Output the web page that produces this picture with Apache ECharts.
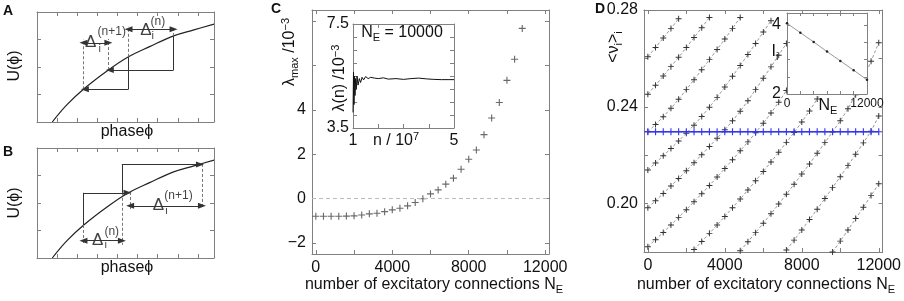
<!DOCTYPE html>
<html>
<head>
<meta charset="utf-8">
<script src="https://cdn.jsdelivr.net/npm/echarts@6/dist/echarts.min.js"></script>
<style>
html,body{margin:0;padding:0;background:#ffffff;}
#chart{width:904px;height:301px;}
</style>
</head>
<body>
<div id="chart"></div>
<script>
// ================= DATA =================
// Panels A/B: schematic curve U(phi) (arbitrary units)
const phiCurve = [0.76, 1.48, 2.31, 3.55, 4.55, 5.6, 6.79, 7.8, 8.8];
const uCurve   = [0.0, 0.62, 1.19, 1.89, 2.37, 2.74, 3.13, 3.35, 3.56];

const stepsA  = [[[6.79,3.13],[6.79,1.89]], [[4.55,2.37],[4.55,1.19]]];
const arrowsA = [[[6.79,1.89],[3.62,1.89]], [[4.55,1.19],[2.38,1.19]]];
const dashesA = [[[6.79,3.13],[6.79,3.47]], [[4.55,2.37],[4.55,3.47]], [[3.55,1.89],[3.55,3.02]], [[2.31,1.19],[2.31,3.02]]];
const spansA  = [[[4.55,3.37],[6.79,3.37]], [[2.31,2.88],[3.55,2.88]]];
const deltaAtA = [[5.41,3.32],[2.67,2.88]];
const deltaSupA = ['(n)','(n+1)'];

const stepsB  = [[[2.31,1.2],[2.31,2.37]], [[4.22,2.37],[4.22,3.4]]];
const arrowsB = [[[2.31,2.37],[4.5,2.37]], [[4.22,3.4],[8.1,3.4]]];
const dashesB = [[[2.31,1.2],[2.31,0.48]], [[4.22,2.37],[4.22,0.48]], [[4.63,2.4],[4.63,1.78]], [[8.2,3.42],[8.2,1.78]]];
const spansB  = [[[2.31,0.63],[4.22,0.63]], [[4.63,1.9],[8.2,1.9]]];
const deltaAtB = [[3.02,0.64],[6.04,1.90]];
const deltaSupB = ['(n)','(n+1)'];

// Panel C: largest Lyapunov exponent vs N_E
const nE_C = [0,400,800,1200,1600,2000,2400,2800,3200,3600,4000,4400,4800,5200,5600,6000,6400,6800,7200,7600,8000,8400,8800,9200,9600,10000,10400,10800];
const lamMax = [-0.80,-0.80,-0.80,-0.80,-0.79,-0.78,-0.74,-0.69,-0.66,-0.59,-0.51,-0.44,-0.33,-0.18,-0.01,0.21,0.39,0.65,0.92,1.32,1.77,2.19,2.88,3.63,4.33,5.33,6.28,7.67];

// Panel C inset: lambda(n) convergence for N_E = 10000
const nInset = [1.00,1.02,1.04,1.06,1.08,1.10,1.13,1.16,1.20,1.25,1.30,1.36,1.42,1.50,1.60,1.70,1.85,2.00,2.20,2.40,2.70,3.00,3.30,3.60,3.90,4.20,4.50,4.80,5.00];
const lamN   = [4.10,5.65,4.40,5.50,4.75,5.40,5.00,5.50,5.15,5.40,5.25,5.45,5.35,5.48,5.40,5.45,5.42,5.40,5.43,5.38,5.40,5.37,5.40,5.42,5.39,5.37,5.36,5.36,5.36];

// Panel D: individual rates <nu_i> vs N_E
const nE_D = [0,400,800,1200,1600,2000,2400,2800,3200,3600,4000,4400,4800,5200,5600,6000,6400,6800,7200,7600,8000,8400,8800,9200,9600,10000,10400,10800,11200,11600,12000];
const rate1  = [0.2607,0.2645,0.2684,0.2724,0.2764];
const rate2  = [0.2452,0.2489,0.2527,0.2566,0.2605,0.2645,0.2686,0.2727,0.2769];
const rate3  = [0.2297,0.2327,0.2359,0.2394,0.2431,0.2471,0.2512,0.2553,0.2595,0.2637,0.2680,0.2724,0.2769];
const rate4  = [0.2139,0.2168,0.2198,0.2228,0.2259,0.2291,0.2324,0.2360,0.2398,0.2439,0.2482,0.2526,0.2571,0.2616,0.2662,0.2709,0.2756];
const rate5  = [0.1983,0.2012,0.2042,0.2073,0.2104,0.2136,0.2169,0.2202,0.2236,0.2270,0.2305,0.2342,0.2382,0.2425,0.2471,0.2518,0.2565,0.2613,0.2662];
const rate6  = [0.1822,0.1851,0.1881,0.1912,0.1943,0.1975,0.2008,0.2041,0.2075,0.2110,0.2145,0.2181,0.2218,0.2255,0.2293,0.2332,0.2374,0.2419,0.2467];
const rate7  = [0.1810,0.1843,0.1877,0.1912,0.1947,0.1983,0.2019,0.2056,0.2094,0.2133,0.2172,0.2212,0.2253,0.2294,0.2337,0.2383,0.2432,0.2484];
const rate8  = [0.1805,0.1842,0.1880,0.1919,0.1958,0.1998,0.2039,0.2080,0.2122,0.2164,0.2208,0.2252,0.2296,0.2342,0.2392,0.2450,0.2515,0.2588,0.2665];
const rate9  = [0.1808,0.1849,0.1891,0.1934,0.1977,0.2021,0.2066,0.2111,0.2157,0.2204,0.2251,0.2299,0.2362];
const rate10 = [0.1800,0.1845,0.1891,0.1938,0.1985,0.2033,0.2082];
const rateStartIdx = [0,0,0,0,0,0,6,12,18,24]; // index into nE_D where each branch starts
const rateMean = [0.2297,0.2297,0.2297,0.2297,0.2297,0.2297,0.2297,0.2297,0.2297,0.2297,0.2297,0.2297,0.2297,0.2297,0.2297,0.2297,0.2297,0.2297,0.2297,0.2297,0.2297,0.2297,0.2297,0.2297,0.2297,0.2297,0.2297,0.2297,0.2297,0.2297,0.2297];

// Panel D inset: I_i vs N_E
const nE_Din = [0,2000,4000,6000,8000,10000,12000];
const iCur   = [4.05,3.78,3.51,3.23,2.96,2.69,2.41];

// ================= STYLE / LAYOUT =================
const FONT = '"Liberation Sans", Arial, Helvetica, sans-serif';
const AX = '#808080';
const INK = '#111111';
const PLUS = 'path://M0,4.2H10V5.8H0Z M4.2,0H5.8V10H4.2Z';

const grids = [
  {left:37,  top:12,  width:177, height:110},                     // A
  {left:37,  top:148, width:177, height:110},                     // B
  {left:312, top:10,  width:237, height:244},                     // C
  {left:353, top:24,  width:101, height:104, z:5},                // C inset
  {left:644, top:10,  width:243, height:242},                     // D
  {left:787, top:13,  width:80,  height:81,  z:5}                 // D inset
].map(g => Object.assign({containLabel:false, show: g.z===5, backgroundColor:'#ffffff', borderWidth:0}, g));

const minusFmt = v => (v < 0 ? '\u2212' + Math.abs(v) : String(v));
const fmtCX = v => (v >= 0 && v % 4000 === 0) ? String(v) : '';
const fmtCY = v => ([-2,0,2,4].indexOf(v) >= 0) ? minusFmt(v) : '';
const fmtDY = v => { const k = Math.round(v*100); return (k % 4 === 0 && k >= 20) ? v.toFixed(2) : ''; };
const fmtCinX = v => (v === 1 || v === 5) ? String(v) : '';
const fmtCinY = v => (Math.abs(v-3.5)<1e-9 || Math.abs(v-7.5)<1e-9) ? v.toFixed(1) : '';
const fmtDinX = v => (v === 0 || v === 12000) ? String(v) : '';
const fmtDinY = v => (Math.abs(v-2)<1e-9 || Math.abs(v-4)<1e-9) ? String(Math.round(v)) : '';

const axisCfg = [
  {x:{min:0,max:8.8,interval:1}, y:{min:0,max:4,interval:1}},
  {x:{min:0,max:8.8,interval:1}, y:{min:0,max:4,interval:1}},
  {x:{min:-200,max:12200,minInterval:2000,maxInterval:2000,splitNumber:6,fmt:fmtCX},
   y:{min:-2.5,max:8.5,minInterval:2,maxInterval:2,splitNumber:5,fmt:fmtCY}},
  {x:{min:1,max:5,interval:1,fmt:fmtCinX,margin:5,z:6},
   y:{min:3.5,max:7.5,interval:0.5,fmt:fmtCinY,margin:4,z:6}},
  {x:{min:-200,max:12200,minInterval:2000,maxInterval:2000,splitNumber:6,fmt:fmtCX},
   y:{min:0.18,max:0.28,interval:0.02,fmt:fmtDY}},
  {x:{min:0,max:12000,interval:2000,fmt:fmtDinX,fs:12,margin:4,z:6,tick:3},
   y:{min:2,max:4.35,interval:0.5,fmt:fmtDinY,margin:6,z:6,tick:3}}
];

function mkAxis(gi, o, pos, withLabel) {
  const a = {
    gridIndex: gi, type: 'value', position: pos, min: o.min, max: o.max,
    z: o.z || 0,
    axisLine: {show: true, onZero: false, lineStyle: {color: AX, width: 1}},
    axisTick: {show: true, inside: true, length: o.tick || 4, lineStyle: {color: AX, width: 1}},
    axisLabel: {show: !!(withLabel && o.fmt), formatter: o.fmt, color: INK, fontSize: o.fs || 16,
                fontFamily: FONT, margin: o.margin || 6, showMinLabel: true, showMaxLabel: true},
    splitLine: {show: false}
  };
  ['interval','minInterval','maxInterval','splitNumber'].forEach(k => { if (o[k] !== undefined) a[k] = o[k]; });
  return a;
}
const xAxes = [], yAxes = [];
axisCfg.forEach((c, gi) => {
  xAxes.push(mkAxis(gi, c.x, 'bottom', true));
  xAxes.push(mkAxis(gi, c.x, 'top', false));
  yAxes.push(mkAxis(gi, c.y, 'left', true));
  yAxes.push(mkAxis(gi, c.y, 'right', false));
});

// --- helpers for schematic panels ---
function mlSeg(seg, kind) {
  const ls = kind === 'dash' ? {type: [3, 2], color: '#777', width: 1}
                             : {type: 'solid', color: '#333', width: 1};
  const s0 = kind === 'double' ? 'triangle' : 'none';
  const s1 = (kind === 'arrow' || kind === 'double') ? 'triangle' : 'none';
  return [{coord: seg[0], symbol: s0, lineStyle: ls}, {coord: seg[1], symbol: s1}];
}
function schematicSeries(gi, steps, arrows, dashes, spans, deltaAt, deltaSup, subOff, supOff) {
  const curve = phiCurve.map((p, i) => [p, uCurve[i]]);
  const ml = [].concat(
    dashes.map(s => mlSeg(s, 'dash')),
    steps.map(s => mlSeg(s, 'solid')),
    arrows.map(s => mlSeg(s, 'arrow')),
    spans.map(s => mlSeg(s, 'double'))
  );
  const lab = [];
  deltaAt.forEach((p, i) => {
    lab.push({value: p, label: {formatter: '\u0394', fontSize: 17, offset: [0, 0], backgroundColor: '#fff', padding: [0, 1, 0, 1]}});
    lab.push({value: p, label: {formatter: 'i', fontSize: 11, offset: subOff[i]}});
    lab.push({value: p, label: {formatter: deltaSup[i], fontSize: 12, offset: supOff[i]}});
  });
  return [
    {type: 'line', xAxisIndex: 2*gi, yAxisIndex: 2*gi, data: curve, smooth: 0.4, showSymbol: false,
     lineStyle: {color: '#222', width: 1.2}, z: 2,
     markLine: {silent: true, animation: false, symbolSize: [6, 8], label: {show: false},
                emphasis: {disabled: true}, data: ml}},
    {type: 'scatter', xAxisIndex: 2*gi, yAxisIndex: 2*gi, data: lab, symbolSize: 1, z: 4,
     itemStyle: {color: 'rgba(0,0,0,0)'},
     label: {show: true, position: 'inside', color: INK, fontFamily: FONT}}
  ];
}

const series = [];
series.push(...schematicSeries(0, stepsA, arrowsA, dashesA, spansA, deltaAtA, deltaSupA, [[7,5],[9,6]], [[12,-9],[21,-11]]));
series.push(...schematicSeries(1, stepsB, arrowsB, dashesB, spansB, deltaAtB, deltaSupB, [[8,5],[8,5]], [[14,-9],[20,-10]]));

// Panel C
series.push({type: 'scatter', xAxisIndex: 4, yAxisIndex: 4, z: 3,
  data: nE_C.map((n, i) => [n, lamMax[i]]), symbol: PLUS, symbolSize: 7,
  itemStyle: {color: '#444'},
  markLine: {silent: true, animation: false, symbol: ['none','none'], label: {show: false},
             lineStyle: {type: [4, 3], color: '#bbbbbb', width: 1}, data: [{yAxis: 0}]}});
// Panel C inset
series.push({type: 'line', xAxisIndex: 6, yAxisIndex: 6, z: 7,
  data: nInset.map((n, i) => [n, lamN[i]]), showSymbol: false,
  lineStyle: {color: '#111', width: 1}});

// Panel D branches
[rate1,rate2,rate3,rate4,rate5,rate6,rate7,rate8,rate9,rate10].forEach((arr, k) => {
  series.push({type: 'line', xAxisIndex: 8, yAxisIndex: 8, z: 2,
    data: arr.map((v, i) => [nE_D[rateStartIdx[k] + i], v]),
    symbol: PLUS, symbolSize: 6, showSymbol: true,
    itemStyle: {color: '#333'},
    lineStyle: {color: '#999', width: 1, type: [3, 2]}});
});
series.push({type: 'line', xAxisIndex: 8, yAxisIndex: 8, z: 3,
  data: rateMean.map((v, i) => [nE_D[i], v]),
  symbol: PLUS, symbolSize: 7, itemStyle: {color: '#3535ee'},
  lineStyle: {color: '#3535ee', width: 1.5}});
// Panel D inset
series.push({type: 'line', xAxisIndex: 10, yAxisIndex: 10, z: 7,
  data: nE_Din.map((n, i) => [n, iCur[i]]),
  symbol: 'circle', symbolSize: 2.5, itemStyle: {color: '#222'},
  lineStyle: {color: '#999', width: 1}});

// --- free text (titles / labels) ---
const RICH = {
  n:   {fontSize: 16, fontFamily: FONT, lineHeight: 20, fill: INK, verticalAlign: 'middle'},
  sub: {fontSize: 11, fontFamily: FONT, lineHeight: 10, fill: INK, verticalAlign: 'bottom'},
  sup: {fontSize: 11, fontFamily: FONT, lineHeight: 10, fill: INK, verticalAlign: 'top'}
};
function gtext(x, y, text, o) {
  o = o || {};
  return {type: 'text', x: x, y: y, rotation: o.rot || 0, z: 100, silent: true,
    style: {text: text, fill: INK, font: (o.bold ? 'bold ' : '') + (o.fs || 16) + 'px ' + FONT,
            align: o.align || 'center', verticalAlign: o.va || 'middle', rich: RICH}};
}
const R90 = Math.PI / 2;
const graphics = [
  gtext(8, 11, 'A', {bold: true, fs: 14}),
  gtext(8, 152, 'B', {bold: true, fs: 14}),
  gtext(276, 9, 'C', {bold: true, fs: 14}),
  gtext(600, 9, 'D', {bold: true, fs: 14}),
  gtext(127, 132, 'phase\u03d5'),
  gtext(127, 268, 'phase\u03d5'),
  gtext(15, 66, 'U(\u03d5)', {rot: R90}),
  gtext(15, 203, 'U(\u03d5)', {rot: R90}),
  gtext(434, 285, '{n|number of excitatory connections N}{sub|E}'),
  gtext(766, 285, '{n|number of excitatory connections N}{sub|E}'),
  gtext(290, 52, '{n|\u03bb}{sub|max}{n| /10}{sup|\u22123}', {rot: R90}),
  gtext(340, 78, '{n|\u03bb(n) /10}{sup|\u22123}', {rot: R90}),
  gtext(396, 141, '{n|n / 10}{sup|7}'),
  gtext(402, 33, '{n|N}{sub|E}{n| = 10000}'),
  gtext(614, 47, '{n|<\u03bd}{sub|i}{n|>}{sub|i}', {rot: R90}),
  gtext(775, 52, '{n|I}{sub|i}'),
  gtext(828, 106, '{n|N}{sub|E}')
];

const chart = echarts.init(document.getElementById('chart'), null, {renderer: 'canvas'});
chart.setOption({
  animation: false,
  backgroundColor: '#ffffff',
  textStyle: {fontFamily: FONT},
  grid: grids,
  xAxis: xAxes,
  yAxis: yAxes,
  series: series,
  graphic: graphics
});
</script>
</body>
</html>
